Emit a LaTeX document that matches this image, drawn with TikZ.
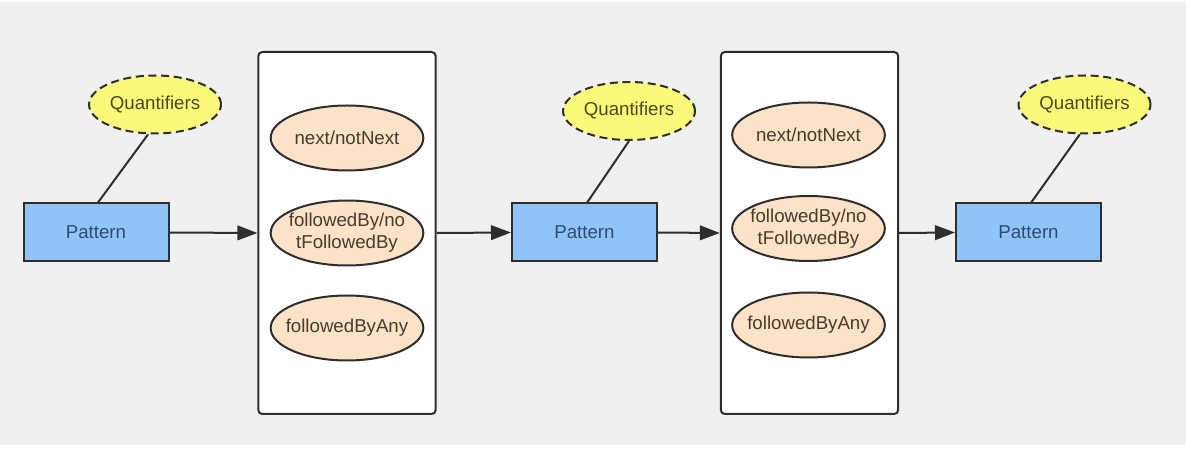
\documentclass[tikz,border=0pt]{standalone}
\usepackage{fontspec}
\setmainfont{Liberation Sans}
\usetikzlibrary{arrows.meta,shapes.geometric}
\definecolor{bgc}{HTML}{F0F0F0}
\definecolor{linec}{HTML}{2E2E2E}
\definecolor{patfill}{HTML}{91C4F6}
\definecolor{pattext}{HTML}{2B4C74}
\definecolor{qfill}{HTML}{FAFA7A}
\definecolor{qtext}{HTML}{4A4A22}
\definecolor{opfill}{HTML}{FCE2C6}
\definecolor{optext}{HTML}{4A3A2C}
\tikzset{
  patternbox/.style={draw=linec, line width=1.5pt, fill=patfill, text=pattext,
    minimum width=108.75pt, minimum height=43.5pt, inner sep=0pt,
    font=\fontsize{14}{16.5}\selectfont},
  quant/.style={ellipse, draw=linec, line width=1.5pt, dash pattern=on 6pt off 3.5pt,
    fill=qfill, text=qtext, minimum width=99pt, minimum height=43.5pt, inner sep=0pt,
    font=\fontsize{14}{16.5}\selectfont},
  opbox/.style={draw=linec, line width=1.5pt, fill=white, rounded corners=3pt,
    minimum width=133pt, minimum height=271.5pt, inner sep=0pt},
  op/.style={ellipse, draw=linec, line width=1.5pt, fill=opfill, text=optext,
    minimum width=114.5pt, minimum height=48.75pt, inner xsep=-6pt, inner ysep=0pt,
    align=center, font=\fontsize{14}{16.5}\selectfont},
  link/.style={draw=linec, line width=1.5pt},
  flow/.style={draw=linec, line width=1.5pt, -{Triangle[length=15pt,width=11pt]}}
}
\begin{document}
\begin{tikzpicture}[x=0.75pt, y=-0.75pt]
\useasboundingbox (0,0) rectangle (1186,463);
\fill[bgc] (0,2) rectangle (1186,445);

% first pattern
\node[patternbox] (p1) at (96,232.5) {Pattern};
\node[quant] (q1) at (155,104.5) {Quantifiers};
\draw[link] (q1.257) -- ([xshift=1.5pt]p1.north);

% first operator group
\node[opbox] (b1) at (347,233) {};
\node[op] (n1) at (347,138) {next/notNext};
\node[op] (f1) at (347,233) {followedBy/no\\tFollowedBy};
\node[op] (a1) at (347,328) {followedByAny};

% second pattern
\node[patternbox] (p2) at (584.5,232.5) {Pattern};
\node[quant] (q2) at (629,111) {Quantifiers};
\draw[link] (q2.south) -- ([xshift=2pt]p2.north);

% second operator group
\node[opbox] (b2) at (809.5,233) {};
\node[op] (n2) at (808.5,135) {next/notNext};
\node[op] (f2) at (808.5,228.5) {followedBy/no\\tFollowedBy};
\node[op] (a2) at (808.5,325) {followedByAny};

% third pattern
\node[patternbox] (p3) at (1028.5,232.5) {Pattern};
\node[quant] (q3) at (1084.5,104.5) {Quantifiers};
\draw[link] (q3.261) -- ([xshift=2pt]p3.north);

% flow arrows
\draw[flow] (p1.east) -- (b1.west);
\draw[flow] (b1.east) -- (p2.west);
\draw[flow] (p2.east) -- (b2.west);
\draw[flow] (b2.east) -- (p3.west);
\end{tikzpicture}
\end{document}
